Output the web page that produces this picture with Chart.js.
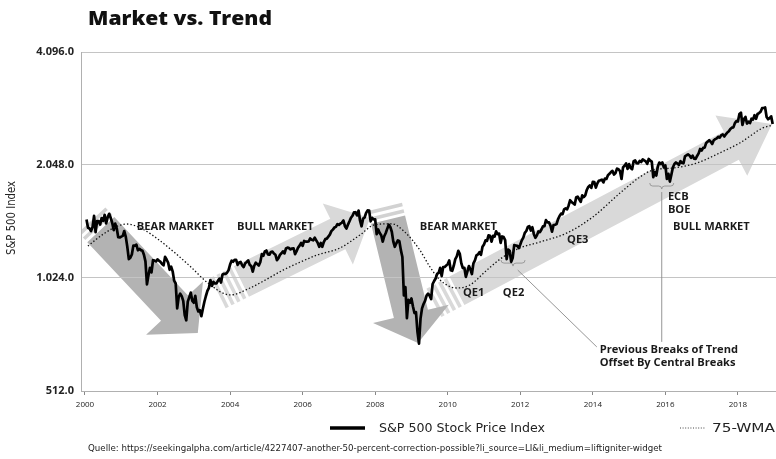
<!DOCTYPE html>
<html>
<head>
<meta charset="utf-8">
<script src="https://cdn.jsdelivr.net/npm/chart.js@4.4.1/dist/chart.umd.min.js"></script>
<style>
  html, body { margin: 0; padding: 0; background: #ffffff; }
  canvas { display: block; }
</style>
</head>
<body>
<canvas id="c" width="776" height="459"></canvas>
<script>
// ---------------- DATA ----------------
// S&P 500, two observations per month (mid-month, month-end)
const spxYears = [2000,2001,2002,2003,2004,2005,2006,2007,2008,2009,2010,2011,2012,2013,2014,2015,2016,2017,2018];
const spx2000 = [1465,1394, 1387,1366, 1400,1499, 1356,1452, 1452,1421, 1479,1455, 1509,1431, 1484,1518, 1481,1437, 1374,1429, 1389,1315, 1313,1320];
const spx2001 = [1326,1366, 1318,1240, 1150,1160, 1183,1249, 1249,1256, 1214,1224, 1215,1211, 1181,1134, 985,1041, 1090,1060, 1142,1139, 1134,1148];
const spx2002 = [1138,1130, 1116,1107, 1166,1147, 1126,1077, 1098,1067, 1007,990, 850,912, 930,916, 890,815, 790,886, 910,936, 890,880];
const spx2003 = [918,856, 834,841, 810,848, 885,917, 946,964, 1011,975, 1000,990, 990,1008, 1020,996, 1046,1051, 1050,1058, 1075,1112];
const spx2004 = [1139,1131, 1145,1145, 1110,1126, 1130,1107, 1095,1121, 1130,1141, 1110,1102, 1065,1104, 1125,1115, 1105,1130, 1185,1174, 1205,1212];
const spx2005 = [1184,1181, 1201,1204, 1190,1181, 1143,1157, 1180,1192, 1206,1191, 1228,1234, 1230,1220, 1227,1229, 1185,1207, 1234,1249, 1270,1248];
const spx2006 = [1285,1280, 1280,1281, 1305,1295, 1290,1311, 1290,1270, 1240,1270, 1240,1277, 1300,1304, 1320,1336, 1365,1378, 1395,1401, 1425,1418];
const spx2007 = [1430,1438, 1457,1407, 1387,1421, 1450,1482, 1500,1531, 1533,1503, 1549,1455, 1406,1474, 1484,1527, 1550,1549, 1450,1481, 1467,1468];
const spx2008 = [1340,1379, 1350,1331, 1280,1323, 1350,1386, 1420,1400, 1360,1280, 1240,1267, 1290,1283, 1215,1165, 920,969, 800,896, 880,903];
const spx2009 = [860,826, 830,735, 685,798, 850,873, 890,919, 930,919, 900,987, 1005,1021, 1050,1057, 1090,1036, 1095,1096, 1105,1115];
const spx2010 = [1140,1074, 1070,1104, 1150,1169, 1210,1187, 1120,1089, 1090,1031, 1065,1102, 1080,1049, 1120,1141, 1176,1183, 1200,1181, 1240,1258];
const spx2011 = [1290,1286, 1330,1327, 1280,1326, 1320,1364, 1340,1345, 1270,1321, 1316,1292, 1150,1219, 1210,1131, 1160,1253, 1250,1247, 1230,1258];
const spx2012 = [1290,1312, 1350,1366, 1400,1408, 1370,1398, 1340,1310, 1330,1362, 1356,1379, 1405,1407, 1460,1441, 1440,1412, 1360,1416, 1420,1426];
const spx2013 = [1470,1498, 1520,1515, 1560,1569, 1560,1598, 1650,1631, 1620,1606, 1680,1686, 1660,1633, 1700,1682, 1700,1757, 1790,1806, 1780,1848];
const spx2014 = [1845,1783, 1830,1859, 1865,1872, 1840,1884, 1880,1924, 1940,1960, 1975,1931, 1950,2003, 1995,1972, 1880,2018, 2040,2068, 2000,2059];
const spx2015 = [2010,1995, 2095,2105, 2070,2068, 2100,2086, 2120,2107, 2095,2063, 2125,2104, 2090,1900, 1960,1920, 2030,2079, 2060,2080, 2020,2044];
const spx2016 = [1880,1940, 1850,1932, 2020,2060, 2080,2065, 2050,2097, 2075,2070, 2160,2174, 2185,2171, 2140,2168, 2130,2126, 2165,2199, 2260,2239];
const spx2017 = [2275,2279, 2345,2364, 2385,2363, 2330,2384, 2400,2412, 2435,2423, 2460,2470, 2440,2472, 2500,2519, 2555,2575, 2580,2648, 2680,2674];
const spx2018 = [2800,2824, 2620,2714, 2750,2641, 2670,2648, 2720,2705, 2780,2718, 2800,2816, 2840,2902, 2905,2914, 2750,2712, 2730,2760, 2633];
const spxByYear = [spx2000,spx2001,spx2002,spx2003,spx2004,spx2005,spx2006,spx2007,spx2008,spx2009,spx2010,spx2011,spx2012,spx2013,spx2014,spx2015,spx2016,spx2017,spx2018];

// 75-week moving average
const wmaDates  = [2000.08,2000.5,2000.91,2001.16,2001.6,2002.01,2002.5,2002.9,2003.39,2004.0,2004.55,2005.0,2005.46,2005.9,2006.39,2007.03,2007.58,2007.99,2008.46,2008.82,2009.23,2009.5,2009.79,2010.25,2010.61,2011.08,2011.52,2011.99,2012.54,2013.29,2014.0,2014.75,2015.3,2015.66,2016.21,2016.87,2017.5,2018.05,2018.69,2018.92];
const wmaValues = [1246,1340,1409,1426,1380,1300,1190,1100,993,923,963,1015,1075,1125,1178,1231,1333,1420,1428,1357,1216,1100,1011,963,981,1075,1164,1231,1277,1350,1489,1724,1903,1986,2010,2073,2206,2344,2571,2610];

// axis ticks
const xTickYears  = [2000,2002,2004,2006,2008,2010,2012,2014,2016,2018];
const yTickValues = [512,1024,2048,4096];
const yTickLabels = ['512.0','1.024.0','2.048.0','4.096.0'];

// annotations (in data units: [year, index value])
const arrowTail  = [[2000.19,1461],[2008.27,1583],[2003.67,934],[2009.62,879]];
const arrowTip   = [[2003.11,731],[2009.18,687],[2007.86,1480],[2018.94,2632]];
const noteTexts  = ['BEAR MARKET','BULL MARKET','BEAR MARKET','QE1','QE2','QE3','ECB','BOE','BULL MARKET','Previous Breaks of Trend','Offset By Central Breaks'];
const noteAt     = [[2001.43,1400],[2004.19,1400],[2009.23,1400],[2010.42,934],[2011.52,934],[2013.29,1293],[2016.07,1682],[2016.07,1554],[2016.21,1400],[2014.19,659],[2014.19,608]];
const braceAt    = [[2011.80,1122],[2015.90,1800]];
const connectFrom = [[2011.93,1075],[2015.90,1735]];
const connectTo   = [[2014.11,671],[2015.90,692]];

// ---------------- build series ----------------
const spxPoints = [];
spxByYear.forEach((arr, yi) => arr.forEach((v, j) => spxPoints.push({x: spxYears[yi] + (j + 1) / 24, y: v})));
const wmaPoints = wmaDates.map((d, i) => ({x: d, y: wmaValues[i]}));

const SANS = "'Open Sans', 'Noto Sans', sans-serif";
const NARROW = "'Liberation Sans Narrow', 'DejaVu Sans Condensed', 'Noto Sans', sans-serif";

// arrow styles
const arrowStyle = [
  {shaft: 37, head: 78, headLen: 34, stripes: 2, fill: '#b3b3b3', stripe: '#d2d2d2'},
  {shaft: 35, head: 78, headLen: 30, stripes: 2, fill: '#b3b3b3', stripe: '#d2d2d2'},
  {shaft: 34, head: 68, headLen: 36, stripes: 4, fill: '#d9d9d9', stripe: '#d9d9d9'},
  {shaft: 32, head: 68, headLen: 46, stripes: 4, fill: '#d9d9d9', stripe: '#d9d9d9'}
];

// draw text stretched horizontally to a target width (left aligned at x)
function fillFit(ctx, text, x, y, width) {
  const w = ctx.measureText(text).width;
  ctx.save();
  ctx.translate(x, y);
  ctx.scale(width / w, 1);
  ctx.fillText(text, 0, 0);
  ctx.restore();
}
function fillScaled(ctx, text, x, y, k) {
  ctx.save();
  ctx.translate(x, y);
  ctx.scale(k, 1);
  ctx.fillText(text, 0, 0);
  ctx.restore();
}

const arrowsPlugin = {
  id: 'arrows',
  beforeDraw(chart) {
    const {ctx, chartArea: ca, scales: {x: xs, y: ys}} = chart;
    ctx.save();
    ctx.beginPath();
    ctx.rect(ca.left, ca.top, ca.right - ca.left, ca.bottom - ca.top);
    ctx.clip();
    [2, 3, 0, 1].forEach(i => {
      const st = arrowStyle[i];
      const tx = xs.getPixelForValue(arrowTail[i][0]), ty = ys.getPixelForValue(arrowTail[i][1]);
      const px = xs.getPixelForValue(arrowTip[i][0]),  py = ys.getPixelForValue(arrowTip[i][1]);
      const dx = px - tx, dy = py - ty, L = Math.hypot(dx, dy);
      const ux = dx / L, uy = dy / L, nx = -uy, ny = ux;
      const hw = st.shaft / 2, hh = st.head / 2;
      let s = 0;
      ctx.fillStyle = st.stripe;
      for (let k = 0; k < st.stripes; k++) {
        const a = s, b = s + 3.6;
        ctx.beginPath();
        ctx.moveTo(tx + ux * a + nx * hw, ty + uy * a + ny * hw);
        ctx.lineTo(tx + ux * b + nx * hw, ty + uy * b + ny * hw);
        ctx.lineTo(tx + ux * b - nx * hw, ty + uy * b - ny * hw);
        ctx.lineTo(tx + ux * a - nx * hw, ty + uy * a - ny * hw);
        ctx.closePath();
        ctx.fill();
        s += 6.5;
      }
      const sx = tx + ux * s, sy = ty + uy * s;
      const bx = px - ux * st.headLen, by = py - uy * st.headLen;
      ctx.fillStyle = st.fill;
      ctx.beginPath();
      ctx.moveTo(sx + nx * hw, sy + ny * hw);
      ctx.lineTo(bx + nx * hw, by + ny * hw);
      ctx.lineTo(bx + nx * hh, by + ny * hh);
      ctx.lineTo(px, py);
      ctx.lineTo(bx - nx * hh, by - ny * hh);
      ctx.lineTo(bx - nx * hw, by - ny * hw);
      ctx.lineTo(sx - nx * hw, sy - ny * hw);
      ctx.closePath();
      ctx.fill();
    });
    ctx.restore();
  }
};

const notesPlugin = {
  id: 'notes',
  afterDatasetsDraw(chart) {
    const {ctx, scales: {x: xs, y: ys}} = chart;
    ctx.save();
    ctx.strokeStyle = '#8a8a8a';
    ctx.lineWidth = 0.9;
    connectFrom.forEach((f, i) => {
      ctx.beginPath();
      ctx.moveTo(xs.getPixelForValue(f[0]), ys.getPixelForValue(f[1]));
      ctx.lineTo(xs.getPixelForValue(connectTo[i][0]), ys.getPixelForValue(connectTo[i][1]));
      ctx.stroke();
    });
    ctx.lineWidth = 0.8;
    braceAt.forEach(b => {
      const cx = xs.getPixelForValue(b[0]), cy = ys.getPixelForValue(b[1]);
      ctx.beginPath();
      ctx.moveTo(cx - 12, cy - 3);
      ctx.quadraticCurveTo(cx - 12, cy, cx - 9, cy);
      ctx.lineTo(cx - 3, cy);
      ctx.quadraticCurveTo(cx, cy, cx, cy + 3);
      ctx.quadraticCurveTo(cx, cy, cx + 3, cy);
      ctx.lineTo(cx + 9, cy);
      ctx.quadraticCurveTo(cx + 12, cy, cx + 12, cy - 3);
      ctx.stroke();
    });
    ctx.fillStyle = '#1a1a1a';
    ctx.font = "bold 10px " + SANS;
    ctx.textAlign = 'left';
    ctx.textBaseline = 'middle';
    noteTexts.forEach((t, i) => {
      fillScaled(ctx, t, xs.getPixelForValue(noteAt[i][0]), ys.getPixelForValue(noteAt[i][1]), 1.11);
    });
    ctx.restore();
  },
  afterDraw(chart) {
    const {ctx} = chart;
    const ds = chart.data.datasets;
    ctx.save();
    ctx.fillStyle = '#111';
    ctx.textBaseline = 'middle';
    ctx.textAlign = 'left';
    ctx.font = "800 20px " + SANS;
    fillFit(ctx, 'Market vs. Trend', 88, 19, 184);
    // y axis title
    ctx.save();
    ctx.translate(12, 218);
    ctx.rotate(-Math.PI / 2);
    ctx.font = "13px " + NARROW;
    ctx.fillStyle = '#222';
    fillFit(ctx, 'S&P 500 Index', -37, 0, 74);
    ctx.restore();
    // legend
    ctx.strokeStyle = ds[0].borderColor;
    ctx.lineWidth = 3.5;
    ctx.beginPath(); ctx.moveTo(330, 428); ctx.lineTo(365, 428); ctx.stroke();
    ctx.font = "13px " + NARROW;
    ctx.fillStyle = '#222';
    fillFit(ctx, ds[0].label, 379, 429, 166);
    ctx.strokeStyle = '#444';
    ctx.lineWidth = 1;
    ctx.setLineDash([1, 1.6]);
    ctx.beginPath(); ctx.moveTo(680, 428); ctx.lineTo(706, 428); ctx.stroke();
    ctx.setLineDash([]);
    fillFit(ctx, ds[1].label, 712, 429, 63);
    // source
    ctx.font = "8px " + NARROW;
    fillFit(ctx, 'Quelle: https://seekingalpha.com/article/4227407-another-50-percent-correction-possible?li_source=LI&li_medium=liftigniter-widget', 88, 449, 574);
    ctx.restore();
  }
};

new Chart(document.getElementById('c'), {
  type: 'line',
  data: {
    datasets: [
      {label: 'S&P 500 Stock Price Index', data: spxPoints, borderColor: '#000000', borderWidth: 2.7,
       pointRadius: 0, tension: 0, borderJoinStyle: 'round', order: 2},
      {label: '75-WMA', data: wmaPoints, borderColor: '#111111', borderWidth: 1.3, borderDash: [1.4, 2.1],
       pointRadius: 0, cubicInterpolationMode: 'monotone', order: 1}
    ]
  },
  options: {
    responsive: false,
    animation: false,
    devicePixelRatio: 1,
    layout: {padding: {left: 0, right: 0, top: 52, bottom: 46}},
    plugins: {legend: {display: false}, tooltip: {enabled: false}, title: {display: false}},
    scales: {
      x: {
        type: 'linear', min: 1999.89, max: 2019.05,
        afterBuildTicks: s => { s.ticks = xTickYears.map(v => ({value: v})); },
        afterFit: s => { s.height = 22; },
        ticks: {callback: v => String(v), font: {size: 8, family: SANS}, color: '#222', padding: 5,
                maxRotation: 0, autoSkip: false},
        grid: {display: true, drawOnChartArea: false, drawTicks: true, tickLength: 4, color: '#888'},
        border: {display: true, color: '#b0b0b0'}
      },
      y: {
        type: 'logarithmic', min: 512, max: 4096,
        afterBuildTicks: s => { s.ticks = yTickValues.map(v => ({value: v})); },
        afterFit: s => { s.width = 81; },
        ticks: {callback: v => yTickLabels[yTickValues.indexOf(v)], font: {size: 11, weight: 'bold', family: SANS},
                color: '#222', padding: 7},
        grid: {color: '#c4c4c4', lineWidth: 1, drawTicks: false},
        border: {display: true, color: '#b0b0b0'}
      }
    }
  },
  plugins: [arrowsPlugin, notesPlugin]
});
</script>
</body>
</html>
